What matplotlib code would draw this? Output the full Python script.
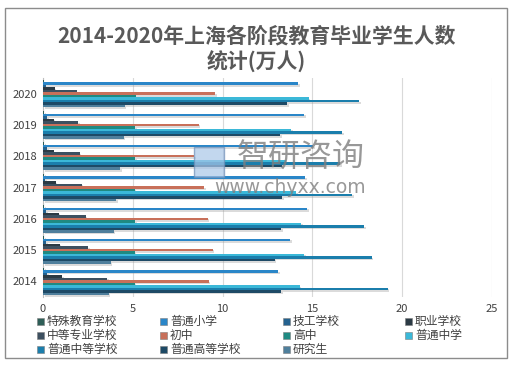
import matplotlib
matplotlib.use('Agg')
import matplotlib.pyplot as plt
import matplotlib.patheffects as pe
from matplotlib.patches import Rectangle
import numpy as np

plt.rcParams['font.family'] = ['Noto Sans CJK SC', 'DejaVu Sans']

# data (万人), years bottom to top
years = ['2014', '2015', '2016', '2017', '2018', '2019', '2020']
series = ['特殊教育学校', '普通小学', '技工学校', '职业学校', '中等专业学校', '初中',
          '高中', '普通中学', '普通中等学校', '普通高等学校', '研究生']
special = [0.08, 0.08, 0.08, 0.08, 0.08, 0.08, 0.08]
primary = [13.1, 13.75, 14.7, 14.6, 15.05, 14.55, 14.2]
technical = [0.24, 0.19, 0.19, 0.13, 0.24, 0.24, 0.19]
vocational = [1.06, 0.93, 0.87, 0.7, 0.6, 0.6, 0.65]
sec_prof = [3.56, 2.5, 2.37, 2.15, 2.04, 1.94, 1.89]
junior = [9.22, 9.44, 9.17, 8.98, 8.43, 8.67, 9.6]
senior = [5.1, 5.1, 5.15, 5.1, 5.15, 5.15, 5.2]
middle = [14.3, 14.55, 14.37, 14.1, 13.55, 13.8, 14.8]
secondary = [19.2, 18.3, 17.9, 17.2, 16.55, 16.65, 17.6]
higher = [13.25, 12.9, 13.25, 13.3, 13.3, 13.2, 13.6]
postgrad = [3.65, 3.76, 3.94, 4.09, 4.31, 4.5, 4.54]
values = [special, primary, technical, vocational, sec_prof, junior,
          senior, middle, secondary, higher, postgrad]
colors = ['#2e5e57', '#2a86c8', '#24628f', '#2b3a44', '#3d5060', '#c8705a',
          '#1f8a82', '#3bb8d8', '#1b7eac', '#1e4a66', '#4f7f9c']

fig = plt.figure(figsize=(5.2, 3.66), dpi=100)
ax = fig.add_axes([43 / 520, 1 - 297 / 366, 449 / 520, 219 / 366])

h = 0.08
y = np.arange(len(years))
shadow = [pe.SimplePatchShadow(offset=(1.2, -1.2), shadow_rgbFace='#999999', alpha=0.35), pe.Normal()]
for j, (vals, c) in enumerate(zip(values, colors)):
    bars = ax.barh(y + (5 - j) * h, vals, height=h, color=c, zorder=3)
    for b in bars:
        b.set_path_effects(shadow)

ax.set_xlim(0, 25)
ax.set_ylim(-0.5, 6.5)
ax.set_xticks([0, 5, 10, 15, 20, 25])
ax.set_yticks(y)
ax.set_yticklabels(years)
ax.tick_params(length=0, labelsize=8, colors='#404040', pad=4)
ax.tick_params(axis='x', pad=5)
ax.grid(axis='x', color='#d9d9d9', lw=0.8, zorder=0)
for s in ['top', 'right', 'bottom']:
    ax.spines[s].set_visible(False)
ax.spines['left'].set_color('#bfbfbf')

fig.text(0.493, 0.902, '2014-2020年上海各阶段教育毕业学生人数', ha='center', va='center',
         fontsize=15, fontweight='bold', color='#595959')
fig.text(0.493, 0.83, '统计(万人)', ha='center', va='center',
         fontsize=15, fontweight='bold', color='#595959')

# watermark
fig.text(0.578, 0.572, '智研咨询', ha='center', va='center', fontsize=23,
         color='#7f7f7f', alpha=0.8, zorder=10)
fig.text(0.558, 0.489, 'www.chyxx.com', ha='center', va='center', fontsize=13.5,
         color='#7f7f7f', alpha=0.8, zorder=10, family='DejaVu Sans')
fig.patches.append(Rectangle((194 / 520, 1 - 177 / 366), 30 / 520, 30 / 366, transform=fig.transFigure,
                             facecolor='#a9c6e8', edgecolor='#6f8fb8', lw=1, alpha=0.7, zorder=10))

# legend
col_x = [37, 160, 283, 405]
row_y = [321, 335, 349]
for k, (name, c) in enumerate(zip(series, colors)):
    r, cc = divmod(k, 4)
    x0 = col_x[cc] / 520
    y0 = 1 - row_y[r] / 366
    fig.patches.append(Rectangle((x0, y0 - 3.5 / 366), 7 / 520, 7 / 366, transform=fig.transFigure,
                                 facecolor=c, edgecolor='#7f7f7f', lw=0.4))
    fig.text(x0 + 10 / 520, y0, name, ha='left', va='center', fontsize=8.5, color='#404040')

fig.patches.append(Rectangle((5 / 520, 1 - 358 / 366), 502 / 520, 350 / 366, transform=fig.transFigure,
                             facecolor='none', edgecolor='#8c8c8c', lw=1))

fig.savefig('out.png', dpi=100)
